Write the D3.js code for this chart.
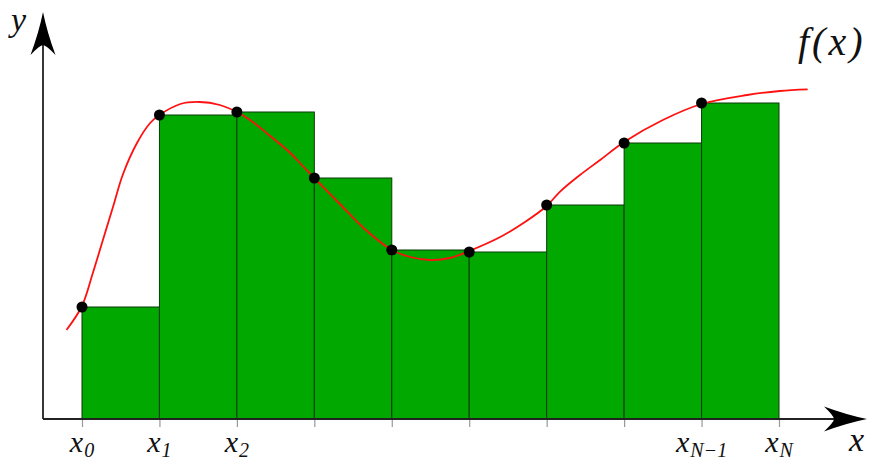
<!DOCTYPE html>
<html>
<head>
<meta charset="utf-8">
<script src="https://cdn.jsdelivr.net/npm/d3@7"></script>
<style>
  body { margin: 0; background: #fff; }
  text { font-family: "Liberation Serif", "DejaVu Serif", serif; font-style: italic; fill: #111; }
</style>
</head>
<body>
<div id="chart"></div>
<script>
// partition points x_0 .. x_N (index units)
const edges = [0, 1, 2, 3, 4, 5, 6, 7, 8, 9];
// left-endpoint heights f(x_i), one per bar
const barHeights = [28, 76, 76.75, 60.25, 42.25, 41.75, 53.5, 69, 79];
// points read along the red curve f(x)
const curveX = [-0.2, 0, 0.14, 0.27, 0.4, 0.53, 0.71, 0.88, 1, 1.27, 1.52, 1.78, 2, 2.17, 2.43, 2.69, 2.85, 3, 3.33, 3.65, 4, 4.24, 4.49, 4.75, 5, 5.4, 5.72, 6, 6.17, 6.43, 6.69, 7, 7.5, 8, 8.59, 9.01, 9.37];
const curveY = [22.25, 28.25, 36.5, 44.75, 53, 61.25, 69, 74, 76, 78.75, 79.25, 78.5, 76.75, 74.75, 70.75, 66.5, 63.25, 60.25, 53.75, 47.5, 42.25, 40.5, 39.75, 40.25, 42, 45.5, 49.25, 53.25, 56.8, 61, 64.75, 69.25, 74.75, 78.75, 81, 82, 82.4];
// tick labels: main letter + subscript
const tickMain = ["x", "x", "x", "", "", "", "", "", "x", "x"];
const tickSub = ["0", "1", "2", "", "", "", "", "", "N\u22121", "N"];

const W = 873, H = 466;
const originX = 43, originY = 419;

const svg = d3.select("#chart").append("svg")
    .attr("width", W)
    .attr("height", H);

const x = d3.scaleLinear().domain([0, 9]).range([82, 779]);
const y = d3.scaleLinear().domain([0, 100]).range([originY, 19]);

// bars
svg.append("g").selectAll("rect")
    .data(barHeights)
    .join("rect")
    .attr("x", (d, i) => x(edges[i]))
    .attr("y", d => y(d))
    .attr("width", (d, i) => x(edges[i + 1]) - x(edges[i]))
    .attr("height", d => y(0) - y(d))
    .attr("fill", "#00a800")
    .attr("stroke", "#0a3a0a")
    .attr("stroke-width", 1);

// ticks
const xAxis = d3.axisBottom(x).tickValues(edges).tickSize(8).tickFormat("");
const axG = svg.append("g")
    .attr("transform", "translate(0," + originY + ")")
    .call(xAxis);
axG.select(".domain").remove();
axG.selectAll(".tick line").attr("stroke", "#999").attr("stroke-width", 1.2);

// tick labels
const lab = svg.append("g").selectAll("text")
    .data(edges.filter((d, i) => tickMain[i] !== ""))
    .join("text")
    .attr("x", d => x(d))
    .attr("y", 452)
    .attr("text-anchor", "middle")
    .attr("font-size", 30);
lab.append("tspan").text(d => tickMain[edges.indexOf(d)]);
lab.append("tspan")
    .attr("dy", 5)
    .attr("dx", 1)
    .attr("font-size", 20)
    .text(d => tickSub[edges.indexOf(d)]);

// axes
const arrow = "M0,0 Q-20,-4 -43,-12.5 Q-33,-3 -33,0 Q-33,3 -43,12.5 Q-20,4 0,0 Z";
svg.append("line")
    .attr("x1", originX).attr("y1", originY)
    .attr("x2", 835).attr("y2", originY)
    .attr("stroke", "#222").attr("stroke-width", 1.8);
svg.append("line")
    .attr("x1", originX).attr("y1", originY)
    .attr("x2", originX).attr("y2", 40)
    .attr("stroke", "#222").attr("stroke-width", 1.8);
svg.append("path").attr("d", arrow)
    .attr("transform", "translate(867," + originY + ")")
    .attr("fill", "#000");
svg.append("path").attr("d", arrow)
    .attr("transform", "translate(" + originX + ",12) rotate(-90)")
    .attr("fill", "#000");

// curve
const line = d3.line()
    .x((d, i) => x(curveX[i]))
    .y(d => y(d))
    .curve(d3.curveCatmullRom.alpha(0.5));
svg.append("path")
    .datum(curveY)
    .attr("d", line)
    .attr("fill", "none")
    .attr("stroke", "#ff1010")
    .attr("stroke-width", 1.8);

// sample points
svg.append("g").selectAll("circle")
    .data(barHeights)
    .join("circle")
    .attr("cx", (d, i) => x(edges[i]))
    .attr("cy", d => y(d))
    .attr("r", 5.5)
    .attr("fill", "#000");

// axis labels
svg.append("text").attr("x", 11).attr("y", 31).attr("font-size", 34).text("y");
svg.append("text").attr("x", 849).attr("y", 451).attr("font-size", 34).text("x");
svg.append("text").attr("x", 798).attr("y", 55).attr("font-size", 40)
    .attr("letter-spacing", 3).text("f(x)");
</script>
</body>
</html>
